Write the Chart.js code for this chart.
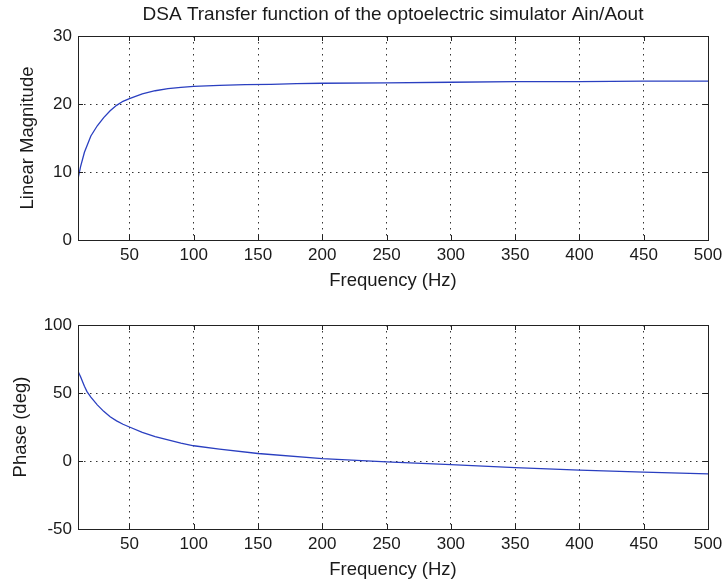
<!DOCTYPE html>
<html><head><meta charset="utf-8">
<script src="https://cdn.jsdelivr.net/npm/chart.js@4/dist/chart.umd.min.js"></script>
<style>
html,body{margin:0;padding:0;background:#fff;}
#wrap{position:relative;width:727px;height:583px;overflow:hidden;background:#fff;}
canvas{position:absolute;left:0;}
</style></head><body>
<div id="wrap">
<canvas id="c1" width="727" height="300" style="top:0"></canvas>
<canvas id="c2" width="727" height="300" style="top:289px"></canvas>
</div>
<script>
const titleText = "DSA Transfer function of the optoelectric simulator Ain/Aout";
const xLabel = "Frequency (Hz)";
const magLabel = "Linear Magnitude";
const phaseLabel = "Phase (deg)";
const xTickValues = [50, 100, 150, 200, 250, 300, 350, 400, 450, 500];
const magTicks = [0, 10, 20, 30];
const phaseTicks = [-50, 0, 50, 100];

const magFreq   = [10, 12, 15, 20, 25, 30, 35, 40, 45, 50, 60, 70, 80, 90, 100, 120, 140, 160, 180, 200, 250, 300, 350, 400, 450, 500];
const magValues = [9.0, 10.8, 12.9, 15.3, 16.8, 18.0, 19.0, 19.8, 20.4, 20.8, 21.5, 21.95, 22.25, 22.45, 22.6, 22.75, 22.85, 22.9, 23.0, 23.05, 23.1, 23.2, 23.3, 23.3, 23.35, 23.35];

const phaseFreq   = [10, 12, 15, 17, 20, 25, 30, 35, 40, 45, 50, 60, 70, 80, 90, 100, 120, 150, 200, 250, 300, 350, 400, 450, 500];
const phaseValues = [66, 62, 55, 51, 47, 41.3, 36.5, 32.5, 29.5, 27, 25, 21, 18, 15.5, 13.2, 11.2, 8.7, 5.5, 1.8, -0.6, -2.6, -4.8, -6.7, -8.2, -9.5];

const FONT = "'Liberation Sans', Arial, sans-serif";
const LINE_COLOR = '#2a3fc0';
const TEXT_COLOR = '#1a1a1a';

const framePlugin = {
  id: 'frame',
  afterDraw(chart) {
    const {ctx, chartArea: a, scales} = chart;
    ctx.save();
    ctx.strokeStyle = '#222';
    ctx.lineWidth = 1;
    ctx.strokeRect(Math.round(a.left) + 0.5, Math.round(a.top) + 0.5, Math.round(a.right - a.left), Math.round(a.bottom - a.top));
    const L = 5;
    ctx.beginPath();
    scales.x.ticks.forEach(t => {
      const px = Math.round(scales.x.getPixelForValue(t.value)) + 0.5;
      ctx.moveTo(px, a.bottom); ctx.lineTo(px, a.bottom - L);
      ctx.moveTo(px, a.top); ctx.lineTo(px, a.top + L);
    });
    scales.y.ticks.forEach(t => {
      const py = Math.round(scales.y.getPixelForValue(t.value)) + 0.5;
      ctx.moveTo(a.left, py); ctx.lineTo(a.left + L, py);
      ctx.moveTo(a.right, py); ctx.lineTo(a.right - L, py);
    });
    ctx.stroke();
    ctx.restore();
  }
};

function makeChart(id, xs, ys, yTicks, yTitle, yTitlePad, showTitle) {
  const pts = xs.map((x, i) => ({x: x, y: ys[i]}));
  return new Chart(document.getElementById(id), {
    type: 'line',
    data: { datasets: [{ data: pts, borderColor: LINE_COLOR, borderWidth: 1.3, pointRadius: 0, tension: 0, fill: false }] },
    options: {
      responsive: false,
      animation: false,
      events: [],
      layout: { padding: { top: showTitle ? 0 : 36, right: 17, left: 0, bottom: 0 } },
      plugins: {
        legend: { display: false },
        tooltip: { enabled: false },
        title: {
          display: showTitle,
          fullSize: false,
          text: titleText,
          color: TEXT_COLOR,
          font: { family: FONT, size: 19, weight: 'normal', lineHeight: 1.2 },
          padding: { top: 3.6, bottom: 9.6 }
        }
      },
      scales: {
        x: {
          type: 'linear',
          min: 10, max: 500,
          afterBuildTicks: s => { s.ticks = xTickValues.map(v => ({value: v})); },
          afterFit: s => { s.height = 60; },
          border: { display: false, dash: [1.5, 4.5] },
          grid: { color: '#333', lineWidth: 1, drawTicks: false },
          ticks: { color: TEXT_COLOR, padding: 4.8, maxRotation: 0, autoSkip: false, font: { family: FONT, size: 17 } },
          title: { display: true, text: xLabel, color: TEXT_COLOR, font: { family: FONT, size: 18.5, lineHeight: 1.2 }, padding: { top: 0, bottom: 7.9 } }
        },
        y: {
          type: 'linear',
          min: yTicks[0], max: yTicks[yTicks.length - 1],
          afterBuildTicks: s => { s.ticks = yTicks.map(v => ({value: v})); },
          afterFit: s => { s.width = 78; },
          border: { display: false, dash: [1.5, 4.5] },
          grid: { color: '#333', lineWidth: 1, drawTicks: false },
          ticks: { color: TEXT_COLOR, padding: 6, font: { family: FONT, size: 17 } },
          title: { display: true, text: yTitle, color: TEXT_COLOR, font: { family: FONT, size: 18.5, lineHeight: 1.2 }, padding: { top: yTitlePad, bottom: 0 } }
        }
      }
    },
    plugins: [framePlugin]
  });
}

makeChart('c1', magFreq, magValues, magTicks, magLabel, 17, true);
makeChart('c2', phaseFreq, phaseValues, phaseTicks, phaseLabel, 10, false);
</script>
</body></html>
